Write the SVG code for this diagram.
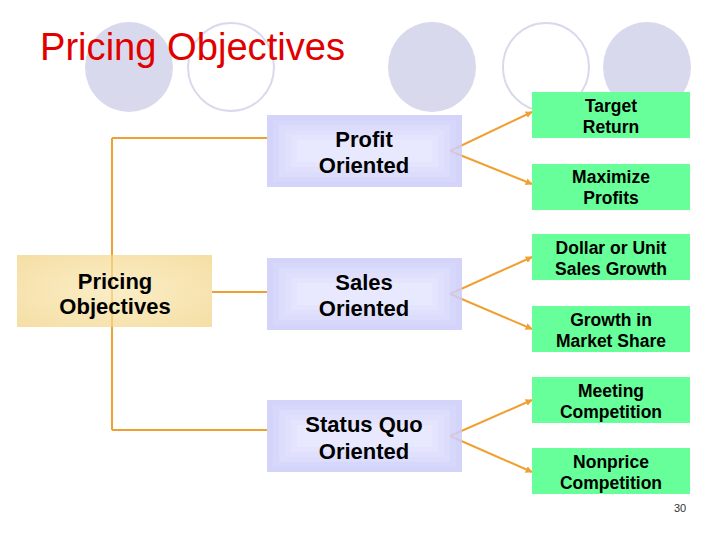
<svg xmlns="http://www.w3.org/2000/svg" width="728" height="546" viewBox="0 0 728 546">
<defs>
<radialGradient id="gold" cx="0.5" cy="0.5" r="0.7">
<stop offset="0" stop-color="#f8e6b0"/>
<stop offset="1" stop-color="#f2d282"/>
</radialGradient>
<marker id="ah" viewBox="0 0 10 10" refX="9" refY="5" markerWidth="7" markerHeight="7" markerUnits="userSpaceOnUse" orient="auto">
<path d="M0,0 L10,5 L0,10 z" fill="#f0a030"/>
</marker>
<g id="lav">
<rect x="0" y="0" width="195" height="72" fill="#cdcdfa"/>
<rect x="6" y="5" width="183" height="62" fill="#d1d1fb"/>
<rect x="12" y="10" width="171" height="52" fill="#d6d6fc"/>
<rect x="18" y="15" width="159" height="42" fill="#dbdbfd"/>
<rect x="24" y="20" width="147" height="32" fill="#e0e0fe"/>
<rect x="30" y="25" width="135" height="22" fill="#e5e5ff"/>
</g>
</defs>
<style>
.bg{fill:#d9d9ee}
.ring{fill:none;stroke:#d9d9ee;stroke-width:2}
.title{font-family:"Liberation Sans",Arial,sans-serif;font-size:39px;fill:#e00000}
.conn{stroke:#f0a030;stroke-width:2;fill:none}
.big{font-family:"Liberation Sans",Arial,sans-serif;font-size:22px;font-weight:bold;fill:#000;text-anchor:middle}
.sm{font-family:"Liberation Sans",Arial,sans-serif;font-size:17.5px;font-weight:bold;fill:#000;text-anchor:middle}
.green{fill:#66ff99}
.pg{font-family:"Liberation Sans",Arial,sans-serif;font-size:11px;fill:#333}
</style>
<rect width="728" height="546" fill="#fff"/>
<g id="decor">
<ellipse class="bg" cx="129" cy="67" rx="44" ry="45"/>
<ellipse class="ring" cx="231" cy="67" rx="43" ry="44"/>
<ellipse class="bg" cx="432" cy="67" rx="44" ry="45"/>
<ellipse class="ring" cx="546" cy="67" rx="43" ry="44"/>
<ellipse class="bg" cx="647" cy="67" rx="44" ry="45"/>
</g>
<text class="title" x="40" y="60" textLength="305" lengthAdjust="spacingAndGlyphs">Pricing Objectives</text>
<g id="connectors">
<path class="conn" d="M112,138 V430"/>
<path class="conn" d="M112,138 H267"/>
<path class="conn" d="M212,292 H267"/>
<path class="conn" d="M112,430 H267"/>
<path class="conn" d="M450,151 L532,112" marker-end="url(#ah)"/>
<path class="conn" d="M450,151 L532,184" marker-end="url(#ah)"/>
<path class="conn" d="M450,294 L532,257" marker-end="url(#ah)"/>
<path class="conn" d="M450,294 L532,329" marker-end="url(#ah)"/>
<path class="conn" d="M450,436 L532,400" marker-end="url(#ah)"/>
<path class="conn" d="M450,436 L532,472" marker-end="url(#ah)"/>
</g>
<g id="pricing">
<rect x="17" y="255" width="195" height="72" fill="url(#gold)" fill-opacity="0.72"/>
<text class="big" x="115" y="289">Pricing</text>
<text class="big" x="115" y="314">Objectives</text>
</g>
<g id="profit">
<use href="#lav" x="267" y="115" opacity="0.85"/>
<text class="big" x="364" y="147">Profit</text>
<text class="big" x="364" y="173">Oriented</text>
</g>
<g id="sales">
<use href="#lav" x="267" y="258" opacity="0.85"/>
<text class="big" x="364" y="290">Sales</text>
<text class="big" x="364" y="316">Oriented</text>
</g>
<g id="statusquo">
<use href="#lav" x="267" y="400" opacity="0.85"/>
<text class="big" x="364" y="432">Status Quo</text>
<text class="big" x="364" y="459">Oriented</text>
</g>
<g id="target">
<rect class="green" x="532" y="92" width="158" height="46"/>
<text class="sm" x="611" y="112">Target</text>
<text class="sm" x="611" y="133">Return</text>
</g>
<g id="maximize">
<rect class="green" x="532" y="164" width="158" height="46"/>
<text class="sm" x="611" y="183">Maximize</text>
<text class="sm" x="611" y="204">Profits</text>
</g>
<g id="dollar">
<rect class="green" x="532" y="234" width="158" height="46"/>
<text class="sm" x="611" y="254">Dollar or Unit</text>
<text class="sm" x="611" y="275">Sales Growth</text>
</g>
<g id="growth">
<rect class="green" x="532" y="306" width="158" height="46"/>
<text class="sm" x="611" y="326">Growth in</text>
<text class="sm" x="611" y="347">Market Share</text>
</g>
<g id="meeting">
<rect class="green" x="532" y="377" width="158" height="46"/>
<text class="sm" x="611" y="397">Meeting</text>
<text class="sm" x="611" y="418">Competition</text>
</g>
<g id="nonprice">
<rect class="green" x="532" y="448" width="158" height="46"/>
<text class="sm" x="611" y="468">Nonprice</text>
<text class="sm" x="611" y="489">Competition</text>
</g>
<text class="pg" x="674" y="512">30</text>
</svg>
